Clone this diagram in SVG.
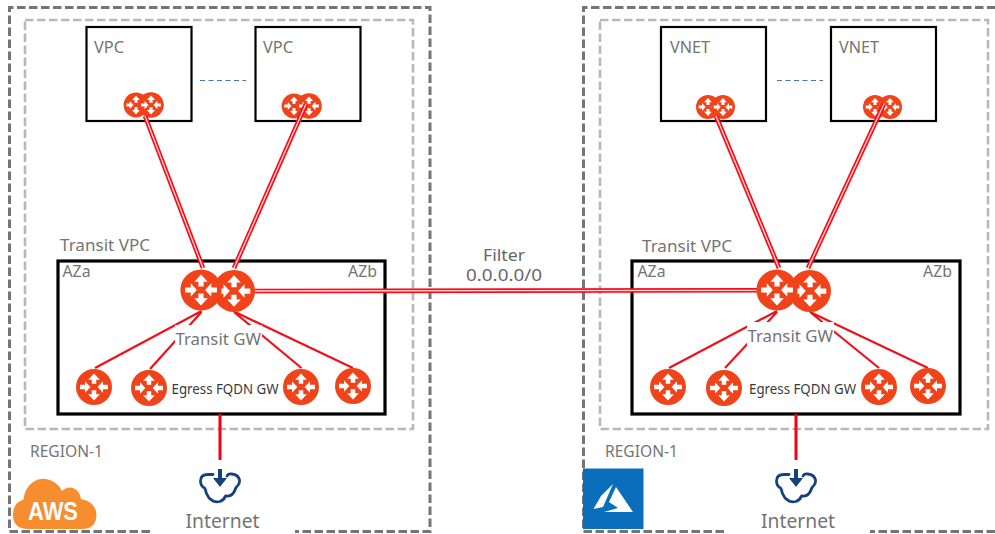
<svg xmlns="http://www.w3.org/2000/svg" xmlns:xlink="http://www.w3.org/1999/xlink" width="995" height="534" viewBox="0 0 995 534">
<style>
text{font-family:"Noto Sans","DejaVu Sans",sans-serif;fill:#747474}
.t16{font-size:16.500px}
.t19{font-size:20px}
.eg{font-size:13.500px;fill:#3a3a3a}
.flt{font-size:15.500px;fill:#666}
.outer{fill:none;stroke:#757575;stroke-width:3;stroke-dasharray:8.500 3.500}
.inner{fill:none;stroke:#b8b8b8;stroke-width:2.600;stroke-dasharray:8.500 3.500}
.box{fill:#fff;stroke:#000;stroke-width:2.200}
.tbox{fill:#fff;stroke:#000;stroke-width:3.200}
.dots{stroke:#4472c4;stroke-width:1;stroke-dasharray:5 3.500;fill:none}
.r{stroke:#ff0a14;stroke-width:4.600;fill:none}
.c{stroke:#ffd9db;stroke-width:1.300;fill:none}
.s{stroke:#f0101c;stroke-width:2.200;fill:none}
.up{stroke:#f5000f;stroke-width:3;fill:none}
.cloud{fill:none;stroke:#13427f;stroke-width:2.800;stroke-linecap:round;stroke-linejoin:round}
.ar{fill:#13427f}
</style>
<defs>
<g id="router">
<circle r="20" fill="#f04319"/>
<path fill="#fff" d="M0-15-6.500-8H-2.500V-3.500H2.500V-8H6.500ZM0 15-6.500 8H-2.500V3.500H2.500V8H6.500ZM-4 0-10-6.500V-2.500H-15.500V2.500H-10V6.500ZM4 0 10-6.500V-2.500H15.500V2.500H10V6.500Z"/>
</g>
</defs>
<g id="region-left">
<path class="outer" d="M150 531.500H9.500V7.500H430V531.500H295"/>
<rect class="inner" x="25" y="20" width="388" height="409"/>
<text class="t16" x="30" y="457" textLength="73" lengthAdjust="spacingAndGlyphs">REGION-1</text>
</g>
<g id="region-right">
<path class="outer" d="M724 531.500H583.500V7.500H995M995 531.500H870"/>
<rect class="inner" x="600" y="20" width="388" height="409"/>
<text class="t16" x="605" y="457" textLength="73" lengthAdjust="spacingAndGlyphs">REGION-1</text>
</g>
<g id="vpc-1"><rect class="box" x="86.500" y="27" width="105" height="94"/><text class="t16" x="94" y="53" textLength="30" lengthAdjust="spacingAndGlyphs">VPC</text></g>
<g id="vpc-2"><rect class="box" x="255.500" y="27" width="105" height="94"/><text class="t16" x="263" y="53" textLength="30" lengthAdjust="spacingAndGlyphs">VPC</text></g>
<g id="vnet-1"><rect class="box" x="661" y="27" width="105" height="94"/><text class="t16" x="670" y="53" textLength="40" lengthAdjust="spacingAndGlyphs">VNET</text></g>
<g id="vnet-2"><rect class="box" x="831" y="27" width="105" height="94"/><text class="t16" x="839" y="53" textLength="40" lengthAdjust="spacingAndGlyphs">VNET</text></g>
<g id="transit-left"><text class="t16" x="60" y="251" textLength="90" lengthAdjust="spacingAndGlyphs">Transit VPC</text><rect class="tbox" x="58" y="261" width="327" height="153"/><text class="t16" x="62.500" y="277" textLength="28" lengthAdjust="spacingAndGlyphs">AZa</text><text class="t16" x="348" y="277" textLength="29" lengthAdjust="spacingAndGlyphs">AZb</text></g>
<g id="transit-right"><text class="t16" x="642" y="252" textLength="90" lengthAdjust="spacingAndGlyphs">Transit VPC</text><rect class="tbox" x="632" y="261" width="328" height="153"/><text class="t16" x="637.500" y="277" textLength="28" lengthAdjust="spacingAndGlyphs">AZa</text><text class="t16" x="923" y="277" textLength="29" lengthAdjust="spacingAndGlyphs">AZb</text></g>
<g id="vpc-2-gw"><use href="#router" transform="translate(294 106) scale(.62)"/><use href="#router" transform="translate(309 106) scale(.64)"/></g>
<g id="vnet-2-gw"><use href="#router" transform="translate(875 107) scale(.6)"/><use href="#router" transform="translate(890 107) scale(.6)"/></g>
<g id="vpc-1-gw"><use href="#router" transform="translate(136 105) scale(.62)"/><use href="#router" transform="translate(151 105) scale(.64)"/></g>
<g id="vnet-1-gw"><use href="#router" transform="translate(708 107) scale(.6)"/><use href="#router" transform="translate(723 107) scale(.6)"/></g>
<g id="dots"><path class="dots" d="M200 80.500H246M777 80.500H823"/></g>
<g id="connectors">
<path class="r" d="M145 116 203 268M306 104 234 268M716 116 779 268M884 104 808 268M250 291 760 290.300"/>
<path class="c" d="M145 116 203 268M306 104 234 268M716 116 779 268M884 104 808 268M250 291 760 290.300"/>
<path class="s" d="M201.500 311 95 368M201.500 312 150 369M234 312 301.500 368M235 312 353 368M777 311 669 368M777 312 725 368M810 312 879 368M810 312 928 368"/>
<path class="up" d="M220 414V460M796 414V460"/>
</g>
<g id="label-transit-gw-left"><rect x="175" y="325" width="87" height="23" fill="#fff"/><text class="t16" x="175.500" y="345" textLength="85.500" lengthAdjust="spacingAndGlyphs">Transit GW</text></g>
<g id="label-transit-gw-right"><rect x="747" y="322" width="87" height="23" fill="#fff"/><text class="t16" x="747.500" y="342" textLength="85.500" lengthAdjust="spacingAndGlyphs">Transit GW</text></g>
<g id="tgw-left"><use href="#router" transform="translate(234 291) scale(1.05)"/><use href="#router" transform="translate(201 290) scale(1.03)"/></g>
<g id="tgw-right"><use href="#router" transform="translate(810 291) scale(1.05)"/><use href="#router" transform="translate(777 290) scale(1.03)"/></g>
<g id="egress-left">
<use href="#router" transform="translate(94 387) scale(.9)"/><use href="#router" transform="translate(149 388) scale(.9)"/><use href="#router" transform="translate(301 387) scale(.9)"/><use href="#router" transform="translate(353 386) scale(.9)"/>
<text class="eg" x="171.500" y="393.500" textLength="107" lengthAdjust="spacingAndGlyphs">Egress FQDN GW</text>
</g>
<g id="egress-right">
<use href="#router" transform="translate(668 387) scale(.9)"/><use href="#router" transform="translate(724 388) scale(.9)"/><use href="#router" transform="translate(879 387) scale(.9)"/><use href="#router" transform="translate(928 386) scale(.9)"/>
<text class="eg" x="749" y="393.500" textLength="107" lengthAdjust="spacingAndGlyphs">Egress FQDN GW</text>
</g>
<g id="filter-label">
<text class="flt" x="483" y="261" textLength="42" lengthAdjust="spacingAndGlyphs">Filter</text>
<text class="flt" x="466" y="281" textLength="76" lengthAdjust="spacingAndGlyphs">0.0.0.0/0</text>
</g>
<g id="internet-left">
<path class="cloud" d="M213 474.500H208Q200.500 474.500 200.500 481Q200.500 486 205 488.500Q206 494 209 498Q214 503 220 501.500Q224 500 225.500 496Q231 497 234 492Q235.500 489 236 487.500Q240 484 239.500 480Q238 474.500 232 474Q228 473.500 227 476"/>
<path class="ar" d="M218 469H222V478H227L220 487 213 478H218Z"/>
<text class="t19" x="185.500" y="527.500" textLength="74" lengthAdjust="spacingAndGlyphs">Internet</text>
</g>
<g id="internet-right">
<path class="cloud" transform="translate(576 0)" d="M213 474.500H208Q200.500 474.500 200.500 481Q200.500 486 205 488.500Q206 494 209 498Q214 503 220 501.500Q224 500 225.500 496Q231 497 234 492Q235.500 489 236 487.500Q240 484 239.500 480Q238 474.500 232 474Q228 473.500 227 476"/>
<path class="ar" transform="translate(576 0)" d="M218 469H222V478H227L220 487 213 478H218Z"/>
<text class="t19" x="761" y="527.500" textLength="74" lengthAdjust="spacingAndGlyphs">Internet</text>
</g>
<g id="aws-logo">
<path fill="#f68d2f" d="M28 529Q13 529 13 514.500Q13 503 23.500 499.500Q24.500 488 33 482Q39 478 46 479Q57 481 62 491Q67 486 73 488Q80 491 81 499Q96 502 96.500 515Q96 529 82 529Z"/>
<text x="28" y="519.500" textLength="50" lengthAdjust="spacingAndGlyphs" style="font-family:'Liberation Sans',sans-serif;font-size:26px;fill:#fff;font-weight:bold">AWS</text>
</g>
<g id="azure-logo">
<rect x="583" y="468.500" width="60.500" height="60.500" fill="#0a6ebd"/>
<path fill="#fff" d="M613 484 601 496 593.500 509 603 507ZM616 487 609 502 618 508 604 512H633Z"/>
</g>
</svg>
